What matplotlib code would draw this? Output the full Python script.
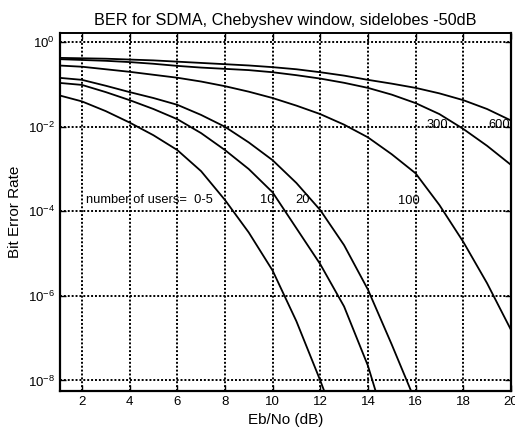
import numpy as np
import matplotlib
matplotlib.use('Agg')
import matplotlib.pyplot as plt
from matplotlib.ticker import NullLocator

plt.rcParams['font.family'] = ['Liberation Sans', 'DejaVu Sans']
plt.rcParams['mathtext.default'] = 'regular'

# Eb/No grid (dB)
ebno = [1, 2, 3, 4, 5, 6, 7, 8, 9, 10, 11, 12, 13, 14, 15, 16, 17, 18, 19, 20]

# log10(BER), one list per number of users
ber_600 = [-0.37, -0.38, -0.39, -0.41, -0.43, -0.46, -0.49, -0.52, -0.55, -0.59,
           -0.64, -0.71, -0.79, -0.89, -0.98, -1.08, -1.21, -1.37, -1.58, -1.85]
ber_300 = [-0.40, -0.42, -0.44, -0.47, -0.51, -0.56, -0.60, -0.63, -0.66, -0.71,
           -0.78, -0.86, -0.96, -1.08, -1.24, -1.44, -1.70, -2.05, -2.45, -2.90]
ber_100 = [-0.55, -0.58, -0.64, -0.70, -0.77, -0.84, -0.93, -1.04, -1.17, -1.32,
           -1.50, -1.70, -1.95, -2.25, -2.65, -3.10, -3.85, -4.72, -5.70, -6.80]

ebno_20 = [1, 2, 3, 4, 5, 6, 7, 8, 9, 10, 11, 12, 13, 14, 15, 15.85]
ber_20 = [-0.84, -0.89, -1.03, -1.18, -1.32, -1.48, -1.72, -2.00, -2.37, -2.79,
          -3.33, -3.97, -4.80, -5.85, -7.15, -8.30]

ebno_10 = [1, 2, 3, 4, 5, 6, 7, 8, 9, 10, 11, 12, 13, 14, 14.35]
ber_10 = [-0.96, -1.01, -1.18, -1.37, -1.58, -1.82, -2.15, -2.55, -3.00, -3.55,
          -4.40, -5.25, -6.25, -7.65, -8.30]

ebno_5 = [1, 2, 3, 4, 5, 6, 7, 8, 9, 10, 11, 12, 12.2]
ber_5 = [-1.25, -1.40, -1.63, -1.90, -2.20, -2.55, -3.05, -3.73, -4.50, -5.40,
         -6.60, -8.00, -8.30]

fig = plt.figure(figsize=(5.15, 4.33), dpi=100)
ax = fig.add_axes([0.1165, 0.097, 0.8755, 0.827])

for x, y in [(ebno, ber_600), (ebno, ber_300), (ebno, ber_100),
             (ebno_20, ber_20), (ebno_10, ber_10), (ebno_5, ber_5)]:
    ax.semilogy(x, 10.0 ** np.array(y), color='black', lw=1.3)

ax.set_xlim(1.08, 20)
ax.set_ylim(10 ** -8.25, 10 ** 0.22)
ax.set_xticks([2, 4, 6, 8, 10, 12, 14, 16, 18, 20])
ax.set_yticks([1e0, 1e-2, 1e-4, 1e-6, 1e-8])
ax.yaxis.set_minor_locator(NullLocator())
ax.tick_params(direction='in', length=4, width=1, labelsize=9.5,
               top=True, right=True)

ax.grid(True, color='black', linestyle=(0, (1, 1)), linewidth=1.4)
for side in ['left', 'bottom', 'right']:
    ax.spines[side].set_linewidth(1.6)
ax.spines['top'].set_linestyle((0, (1, 1)))
ax.spines['top'].set_linewidth(1.4)

ax.set_title('BER for SDMA, Chebyshev window, sidelobes -50dB', fontsize=11.7)
ax.set_xlabel('Eb/No (dB)', fontsize=11)
ax.set_ylabel('Bit Error Rate', fontsize=11)

ax.text(2.17, 10 ** -3.73, 'number of users=  0-5', fontsize=9.3, va='center')
ax.text(9.47, 10 ** -3.73, '10', fontsize=9.3, va='center')
ax.text(10.94, 10 ** -3.73, '20', fontsize=9.3, va='center')
ax.text(15.26, 10 ** -3.75, '100', fontsize=9.3, va='center')
ax.text(16.48, 10 ** -1.96, '300', fontsize=9.3, va='center')
ax.text(19.04, 10 ** -1.96, '600', fontsize=9.3, va='center')

plt.savefig('out.png', dpi=100)
